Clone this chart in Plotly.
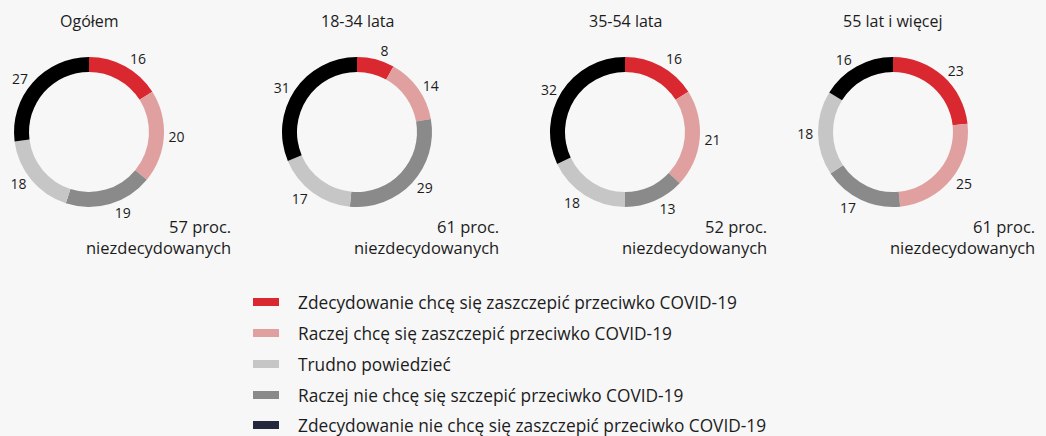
import plotly.graph_objects as go

W, H = 1046, 436

# Legend categories (legend order)
legend_labels = [
    "Zdecydowanie chcę się zaszczepić przeciwko COVID-19",
    "Raczej chcę się zaszczepić przeciwko COVID-19",
    "Trudno powiedzieć",
    "Raczej nie chcę się szczepić przeciwko COVID-19",
    "Zdecydowanie nie chcę się zaszczepić przeciwko COVID-19",
]
legend_colors = ["#d9282f", "#e0a0a0", "#c6c6c6", "#8a8a8a", "#23283f"]

# Slice order around each ring (clockwise from top)
slice_labels = [
    "Zdecydowanie chcę się zaszczepić przeciwko COVID-19",
    "Raczej chcę się zaszczepić przeciwko COVID-19",
    "Raczej nie chcę się szczepić przeciwko COVID-19",
    "Trudno powiedzieć",
    "Zdecydowanie nie chcę się zaszczepić przeciwko COVID-19",
]
slice_colors = ["#d9282f", "#e0a0a0", "#8a8a8a", "#c6c6c6", "#000000"]

groups = ["Ogółem", "18-34 lata", "35-54 lata", "55 lat i więcej"]
values_ogolem = [16, 20, 19, 18, 27]
values_18_34 = [8, 14, 29, 17, 31]
values_35_54 = [16, 21, 13, 18, 32]
values_55 = [23, 25, 17, 18, 16]
undecided = [57, 61, 52, 61]

all_values = [values_ogolem, values_18_34, values_35_54, values_55]

FONT = "Open Sans"
TXT = "#1c1c1c"

centers_x = [89, 357, 625, 893]
center_y = 132
R = 75

fig = go.Figure()
annotations = []
shapes = []

for i, (g, vals) in enumerate(zip(groups, all_values)):
    cx = centers_x[i]
    x0, x1 = (cx - R) / W, (cx + R) / W
    y0, y1 = (H - center_y - R) / H, (H - center_y + R) / H
    fig.add_trace(go.Pie(
        labels=slice_labels,
        values=vals,
        hole=0.8,
        sort=False,
        direction="clockwise",
        rotation=0,
        marker=dict(colors=slice_colors, line=dict(width=0)),
        textinfo="value",
        textposition="outside",
        textfont=dict(family=FONT, size=14, color=TXT),
        domain=dict(x=[x0, x1], y=[y0, y1]),
        showlegend=False,
        hoverinfo="label+value",
    ))
    annotations.append(dict(
        x=cx / W, y=(H - 21) / H, xref="paper", yref="paper",
        text=g, showarrow=False, xanchor="center", yanchor="middle",
        font=dict(family=FONT, size=16, color=TXT),
    ))
    annotations.append(dict(
        x=(cx + 144) / W, y=(H - 237) / H, xref="paper", yref="paper",
        text=f"{undecided[i]} proc.<br>niezdecydowanych", showarrow=False,
        xanchor="right", yanchor="middle", align="right",
        font=dict(family=FONT, size=16.5, color=TXT),
    ))

legend_y = [302, 333, 364, 395, 425]
for lab, col, ly in zip(legend_labels, legend_colors, legend_y):
    shapes.append(dict(
        type="rect", xref="paper", yref="paper",
        x0=253 / W, x1=279 / W, y0=(H - ly - 4) / H, y1=(H - ly + 4) / H,
        fillcolor=col, line=dict(width=0),
    ))
    annotations.append(dict(
        x=296 / W, y=(H - ly) / H, xref="paper", yref="paper",
        text=lab, showarrow=False, xanchor="left", yanchor="middle",
        font=dict(family=FONT, size=17.3, color=TXT),
    ))

fig.update_layout(
    width=W, height=H,
    margin=dict(l=0, r=0, t=0, b=0),
    paper_bgcolor="#f7f7f7",
    plot_bgcolor="#f7f7f7",
    annotations=annotations,
    shapes=shapes,
    font=dict(family=FONT, color=TXT),
)

fig.write_html(
    "out.html",
    config={"displayModeBar": False},
    post_script="document.body.style.margin='0';document.body.style.overflow='hidden';",
)
